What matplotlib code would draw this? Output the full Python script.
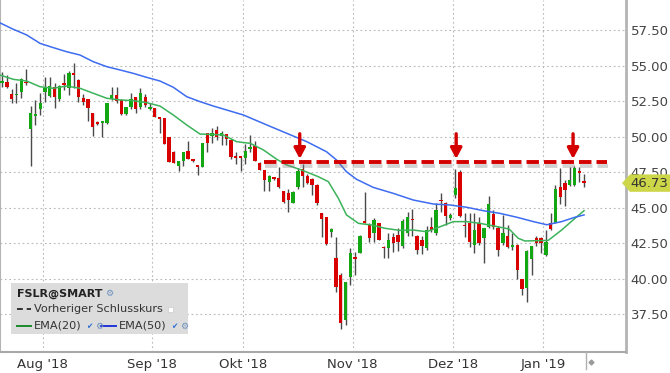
import matplotlib
matplotlib.use('Agg')
import matplotlib.pyplot as plt
import matplotlib.patheffects as pe
from matplotlib.patches import Rectangle, Polygon
from matplotlib.lines import Line2D

# ---------------- data ----------------
opens = [53.80, 53.86, 52.98, 52.90, 53.16, 53.85, 50.54, 51.45, 51.94, 53.16,
         52.88, 53.51, 52.65, 53.75, 53.40, 54.45, 54.00, 52.70, 52.63, 51.68,
         51.03, 50.95, 50.94, 52.63, 52.93, 52.58, 51.59, 52.06, 52.77, 52.06,
         52.77, 51.95, 51.99, 51.32, 51.29, 49.99, 48.94, 47.90, 48.30, 49.00,
         48.35, 47.95, 47.85, 50.28, 50.04, 50.46, 50.04, 50.18, 49.76, 48.58,
         48.55, 48.52, 49.10, 49.34, 48.12, 47.65, 46.83, 47.10, 47.07, 46.17,
         46.06, 45.35, 46.43, 47.70, 47.23, 47.00, 46.60, 44.65, 44.33, 43.30,
         41.44, 40.27, 37.10, 40.15, 41.50, 41.80, 44.05, 43.78, 43.24, 43.90,
         42.25, 42.14, 42.95, 43.10, 42.33, 43.24, 44.20, 43.00, 42.73, 42.14,
         43.66, 43.20, 45.52, 45.30, 44.28, 45.90, 47.53, 43.75, 43.90, 42.38,
         43.95, 42.85, 43.66, 44.56, 43.60, 42.50, 43.00, 42.26, 42.38, 39.96,
         39.33, 41.37, 42.85, 42.85, 41.67, 43.95, 43.95, 46.44, 46.72, 46.60,
         46.60, 47.55, 46.90]
highs = [54.57, 54.33, 53.33, 53.75, 54.10, 54.76, 52.15, 52.58, 53.09, 54.17,
         54.17, 53.79, 53.60, 54.40, 54.60, 55.20, 54.07, 53.00, 52.63, 51.68,
         51.10, 51.10, 52.40, 53.47, 53.47, 52.65, 52.10, 53.05, 52.77, 53.40,
         53.00, 52.35, 51.99, 51.32, 51.29, 49.99, 49.00, 48.30, 48.95, 49.70,
         48.45, 47.95, 49.53, 50.28, 50.59, 50.75, 50.42, 50.18, 49.80, 48.90,
         48.55, 49.46, 50.11, 49.70, 48.20, 47.65, 47.30, 47.15, 47.88, 46.20,
         46.30, 46.20, 47.80, 48.07, 47.40, 47.10, 46.70, 44.65, 44.33, 43.60,
         42.96, 40.40, 39.80, 42.14, 41.90, 43.10, 46.13, 43.90, 44.30, 43.90,
         42.30, 43.24, 43.24, 43.60, 44.20, 44.72, 44.89, 43.10, 43.00, 43.70,
         44.33, 45.30, 46.06, 45.40, 44.60, 47.70, 47.65, 44.60, 44.60, 44.60,
         44.33, 43.55, 45.82, 44.84, 43.70, 44.50, 43.80, 43.20, 42.45, 40.00,
         42.00, 42.30, 43.00, 42.95, 43.43, 44.65, 46.60, 47.77, 46.95, 47.88,
         47.93, 47.84, 47.37]
lows = [53.47, 53.40, 52.34, 52.34, 52.74, 53.63, 47.95, 50.82, 51.52, 52.46,
        52.80, 52.03, 52.50, 53.30, 52.90, 53.40, 52.46, 52.20, 51.12, 50.06,
        50.85, 49.97, 50.90, 52.55, 52.40, 51.50, 51.50, 51.95, 51.65, 51.95,
        52.05, 51.85, 51.36, 50.25, 49.48, 48.24, 48.12, 47.60, 47.95, 48.43,
        48.20, 47.30, 47.85, 48.90, 49.57, 49.75, 49.41, 49.40, 48.45, 48.07,
        47.60, 48.07, 48.90, 48.31, 47.65, 46.18, 46.18, 46.95, 46.40, 45.31,
        44.72, 45.30, 46.30, 46.48, 46.70, 45.90, 45.20, 42.96, 42.40, 42.96,
        39.09, 36.50, 36.75, 39.56, 40.27, 41.80, 43.90, 42.60, 42.60, 42.70,
        41.44, 41.44, 41.90, 41.97, 42.20, 43.00, 43.00, 41.74, 41.74, 42.05,
        43.30, 43.10, 44.72, 43.78, 44.10, 45.66, 44.33, 42.96, 42.26, 41.80,
        42.38, 41.10, 43.60, 43.50, 41.60, 42.40, 42.20, 42.00, 39.96, 38.86,
        38.39, 40.27, 42.30, 41.80, 41.60, 43.40, 43.95, 45.26, 45.10, 46.50,
        46.50, 46.83, 46.48]
closes = [53.90, 53.51, 52.63, 53.00, 54.03, 53.75, 51.64, 51.55, 52.34, 53.44,
          53.56, 52.81, 53.56, 53.65, 54.45, 54.35, 52.81, 52.46, 52.03, 50.70,
          50.90, 51.05, 52.34, 52.93, 52.53, 51.59, 52.06, 52.63, 51.94, 53.05,
          52.20, 52.05, 51.36, 51.25, 49.48, 48.24, 48.12, 48.30, 48.90, 48.43,
          48.28, 47.85, 49.53, 49.57, 50.28, 49.99, 50.28, 49.81, 48.55, 48.52,
          48.52, 48.99, 49.25, 48.31, 47.65, 46.95, 47.23, 47.04, 46.43, 45.42,
          45.54, 46.13, 47.60, 47.23, 46.72, 46.60, 45.35, 44.18, 42.43, 43.50,
          39.40, 36.91, 39.80, 41.80, 41.40, 43.00, 43.95, 42.85, 44.13, 42.73,
          42.15, 42.70, 42.49, 42.60, 44.08, 44.33, 44.10, 42.02, 42.30, 43.43,
          43.43, 44.84, 45.44, 44.40, 44.47, 46.40, 44.45, 43.68, 42.60, 43.40,
          42.50, 43.55, 45.26, 43.66, 42.02, 43.24, 42.26, 42.38, 40.62, 39.26,
          41.97, 42.30, 42.50, 42.50, 42.60, 43.48, 46.30, 45.77, 46.24, 46.95,
          47.77, 47.45, 46.73]

ema20_x = [-0.44, 2.35, 5.16, 7.95, 10.73, 13.54, 16.33, 19.12, 21.93, 24.72,
           27.5, 30.3, 33.1, 35.9, 38.7, 41.5, 44.3, 46.4, 49.2, 52.0, 54.8,
           57.6, 59.7, 62.8, 66.3, 68.4, 70.5, 72.2, 74.7, 77.5, 80.3, 83.4,
           86.2, 89.0, 91.8, 94.6, 97.4, 100.2, 103.3, 106.3, 108.2, 109.6,
           114.5, 117.3, 120.1, 122.0]
ema20_y = [54.33, 54.03, 53.91, 53.51, 53.40, 53.56, 53.40, 53.05, 52.70, 52.58,
           52.53, 52.39, 52.15, 51.52, 50.82, 50.18, 50.15, 50.11, 49.64, 49.53,
           49.06, 48.40, 48.00, 47.65, 47.18, 46.83, 45.66, 44.49, 43.90, 43.78,
           43.55, 43.40, 43.43, 43.31, 43.66, 44.02, 44.02, 43.90, 43.70, 43.50,
           42.85, 42.66, 42.70, 43.43, 44.25, 44.79]
ema50_x = [-0.44, 2.35, 5.16, 7.95, 10.73, 13.54, 16.33, 19.12, 21.93, 24.72,
           27.5, 30.3, 33.1, 35.9, 38.7, 41.5, 44.3, 50.6, 55.5, 59.7, 63.9,
           68.0, 70.1, 72.2, 74.3, 77.8, 82.0, 86.2, 90.4, 93.9, 97.4, 100.9,
           104.4, 107.9, 111.4, 114.2, 117.3, 120.1, 122.0]
ema50_y = [58.00, 57.55, 57.15, 56.56, 56.26, 55.97, 55.74, 55.27, 54.92, 54.69,
           54.45, 54.17, 53.91, 53.47, 52.81, 52.46, 52.15, 51.52, 50.82, 50.23,
           49.64, 48.94, 48.36, 47.53, 47.00, 46.43, 46.01, 45.54, 45.26, 45.19,
           45.03, 44.79, 44.60, 44.33, 44.02, 43.80, 44.02, 44.33, 44.49]

month_labels = ["Aug '18", "Sep '18", "Okt '18", "Nov '18", "Dez '18", "Jan '19"]
month_first_idx = [9, 32, 51, 74, 95, 114]
price_ticks = [37.5, 40.0, 42.5, 45.0, 47.5, 50.0, 52.5, 55.0, 57.5]

resistance = 48.2
resistance_from = 54.9
resistance_to = 126.8
arrow_idx = [62.4, 95.2, 119.7]
last_price = 46.73

# ---------------- figure ----------------
W, H = 670, 373
fig = plt.figure(figsize=(W / 100, H / 100), dpi=100)
fig.patch.set_facecolor('white')
ax = fig.add_axes([0, 1 - 352 / H, 626 / W, 352 / H])
ax.set_facecolor('white')
ax.set_xlim(-0.44, 130.8)
ax.set_ylim(34.85, 59.61)

GREEN = '#13a813'
RED = '#d90000'
WICK = '#4a4a4a'

n = len(closes)
xs = list(range(n))
ax.vlines(xs, lows, highs, color=WICK, lw=1.0, zorder=3)
bottoms = [min(o, c) for o, c in zip(opens, closes)]
heights = [max(abs(c - o), 0.12) for o, c in zip(opens, closes)]
cols = [GREEN if c >= o else RED for o, c in zip(opens, closes)]
ax.bar(xs, heights, bottom=bottoms, width=0.7, color=cols, zorder=4, linewidth=0)

ax.plot(ema20_x, ema20_y, color='#3cb35a', lw=1.1, zorder=5)
ax.plot(ema50_x, ema50_y, color='#3d6cf0', lw=1.1, zorder=5)

# resistance dashed line with shadow
ax.plot([resistance_from, resistance_to], [resistance, resistance], color='#d40000',
        lw=2.8, dashes=(3.2, 1.3), zorder=6, solid_capstyle='butt',
        path_effects=[pe.SimpleLineShadow(offset=(0.5, -2.5), shadow_color='#808080', alpha=0.35),
                      pe.Normal()])

for a in arrow_idx:
    ax.annotate('', xy=(a, 48.43), xytext=(a, 50.2),
                arrowprops=dict(arrowstyle='-|>,head_width=0.24,head_length=0.45',
                                color='#d40000', lw=2.4, shrinkA=0, shrinkB=0,
                                mutation_scale=14), zorder=7)

# grid
grid_kw = dict(color='#b8b8b8', lw=0.8, ls=(0, (1.5, 2.5)), zorder=1)
for p in price_ticks:
    ax.axhline(p, **grid_kw)
for m in month_first_idx:
    ax.axvline(m - 0.5, **grid_kw)

# axes
ax.yaxis.tick_right()
ax.set_yticks(price_ticks)
ax.set_yticklabels(['%.2f' % p for p in price_ticks])
ax.set_xticks([m - 0.5 for m in month_first_idx])
ax.set_xticklabels(month_labels)
ax.tick_params(axis='y', length=0, pad=3.5, labelsize=9.5, labelcolor='#444444')
ax.tick_params(axis='x', length=0, pad=4, labelsize=9.5, labelcolor='#333333')
ax.spines['top'].set_visible(False)
ax.spines['right'].set_color('#b4b4b4')
ax.spines['right'].set_linewidth(2.0)
ax.spines['left'].set_color('#b4b4b4')
ax.spines['left'].set_linewidth(1.5)
ax.spines['bottom'].set_color('#a8a8a8')
ax.spines['bottom'].set_linewidth(1.5)


def fx(x):
    return x / W


def fy(y):
    return 1 - y / H


# last price tag (pixel-placed shape, value from data)
tag_y = ax.transData.transform((0, last_price))[1]
tag_py = H - tag_y
fig.patches.append(Polygon([(fx(622), fy(tag_py)), (fx(630), fy(tag_py - 8.7)),
                            (fx(670), fy(tag_py - 8.7)), (fx(670), fy(tag_py + 8.7)),
                            (fx(630), fy(tag_py + 8.7))],
                           closed=True, transform=fig.transFigure, fc='#cdd648', ec='none',
                           zorder=30))
fig.text(fx(630.5), fy(tag_py), '%.2f' % last_price, fontsize=9.5, color='#333333',
         ha='left', va='center', zorder=31)

# ---------------- legend box (figure pixel coords) ----------------
fig.patches.append(Rectangle((fx(11), fy(334)), (188 - 11) / W, (334 - 283) / H,
                             transform=fig.transFigure, fc='#dcdcdc', ec='none', zorder=20))
fig.text(fx(17), fy(293.5), 'FSLR@SMART', fontsize=8, fontweight='bold', color='#222222',
         va='center', ha='left', zorder=21)
fig.text(fx(105), fy(293.5), '\u2699', fontsize=6.5, color='#6a8fc0', va='center', ha='left', zorder=21)

fig.lines.append(Line2D([fx(17), fx(31)], [fy(309), fy(309)], transform=fig.transFigure,
                        color='#333333', lw=1.4, dashes=(3, 2), zorder=21))
fig.text(fx(34), fy(309), 'Vorheriger Schlusskurs', fontsize=8.1, color='#333333',
         va='center', ha='left', zorder=21)
fig.patches.append(Rectangle((fx(168), fy(312)), 5 / W, 5 / H, transform=fig.transFigure,
                             fc='white', ec='#cccccc', lw=0.5, zorder=21))

fig.lines.append(Line2D([fx(17), fx(31)], [fy(326), fy(326)], transform=fig.transFigure,
                        color='#1e8a2e', lw=1.4, zorder=21))
fig.text(fx(34), fy(326), 'EMA(20)', fontsize=8.1, color='#333333', va='center', ha='left', zorder=21)
fig.text(fx(86), fy(326.5), '\u2714', fontsize=5.5, color='#2f6fd0', va='center', ha='left', zorder=21)
fig.text(fx(95), fy(326), '\u2699', fontsize=6.5, color='#6a8fc0', va='center', ha='left', zorder=21)
fig.lines.append(Line2D([fx(101), fx(116)], [fy(326), fy(326)], transform=fig.transFigure,
                        color='#2236d8', lw=1.4, zorder=21))
fig.text(fx(118.5), fy(326), 'EMA(50)', fontsize=8.1, color='#333333', va='center', ha='left', zorder=21)
fig.text(fx(171), fy(326.5), '\u2714', fontsize=5.5, color='#2f6fd0', va='center', ha='left', zorder=21)
fig.text(fx(180), fy(326), '\u2699', fontsize=6.5, color='#6a8fc0', va='center', ha='left', zorder=21)

# current-time marker under the axis
fig.lines.append(Line2D([fx(586), fx(586)], [fy(352), fy(369)], transform=fig.transFigure,
                        color='#b0b0b0', lw=1.0, zorder=21))
fig.lines.append(Line2D([fx(591)], [fy(362)], transform=fig.transFigure, marker='D',
                        markersize=2.5, color='#9a9a9a', lw=0, zorder=21))

fig.savefig('out.png', dpi=100, facecolor='white')
